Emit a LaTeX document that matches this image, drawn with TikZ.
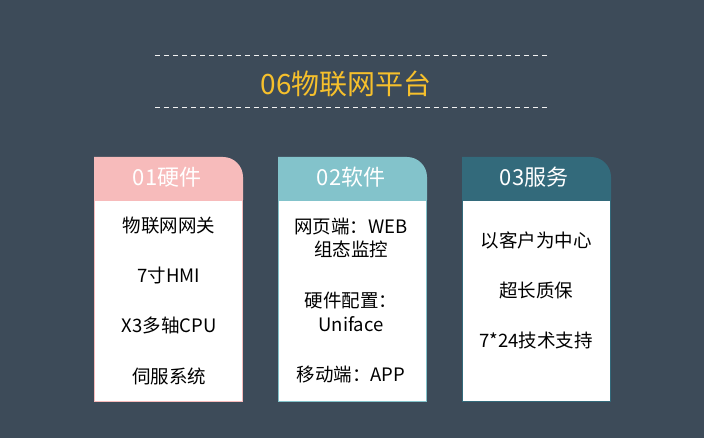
\documentclass[tikz,border=0pt]{standalone}
\usepackage{fontspec}
\setmainfont{Noto Sans CJK SC}
\usetikzlibrary{positioning}
\definecolor{bgslate}{HTML}{3D4B59}
\definecolor{hwpink}{HTML}{F7BBBB}
\definecolor{swteal}{HTML}{83C3CB}
\definecolor{svdark}{HTML}{336A7B}
\definecolor{titleyellow}{HTML}{F6C02C}
\begin{document}
\begin{tikzpicture}[x=1pt,y=-1pt,
  headtext/.style = {text=white, font=\fontsize{22}{26}\selectfont},
  itemtext/.style = {text=black, align=center, font=\fontsize{18.5}{23.5}\selectfont},
  cardbody/.style = {draw=#1, line width=1pt, fill=white, minimum width=148pt, minimum height=201pt, inner sep=0pt},
  rule/.style = {draw=white!90!gray, line width=0.8pt, dash pattern=on 5pt off 4pt}]
  \fill[bgslate] (0,0) rectangle (704,438);
  % title
  \coordinate (ruletopl) at (155,55); \coordinate (ruletopr) at (548,55);
  \coordinate (rulebotl) at (155,107); \coordinate (rulebotr) at (548,107);
  \draw[rule] (ruletopl) -- (ruletopr);
  \draw[rule] (rulebotl) -- (rulebotr);
  \node[text=titleyellow, font=\fontsize{28}{32}\selectfont] (title) at (346,84) {06物联网平台};
  % cards
  \foreach \name/\xl/\col in {hw/94/hwpink, sw/278/swteal, sv/462/svdark} {
    \node[cardbody=\col, anchor=north west] (\name body) at (\xl,200) {};
    \fill[\col] (\xl,200) -- (\xl,157) [rounded corners=20pt] -- (\xl+149,157) [sharp corners] -- (\xl+149,200) -- cycle;
  }
  \node[headtext] (hwhead) at (167,177) {01硬件};
  \node[headtext] (swhead) at (351,177) {02软件};
  \node[headtext] (svhead) at (534,177) {03服务};
  % hardware
  \node[itemtext] (hwa) at (169,226) {物联网网关};
  \node[itemtext] (hwb) at (169,275) {7寸HMI};
  \node[itemtext] (hwc) at (169,325) {X3多轴CPU};
  \node[itemtext] (hwd) at (169,376) {伺服系统};
  % software
  \node[itemtext] (swa) at (351,238) {网页端：WEB\\组态监控};
  \node[itemtext] (swb) at (351,312) {硬件配置：\\Uniface};
  \node[itemtext] (swc) at (351,375) {移动端：APP};
  % service
  \node[itemtext] (sva) at (536,240) {以客户为中心};
  \node[itemtext] (svb) at (536,290) {超长质保};
  \node[itemtext] (svc) at (536,340) {7*24技术支持};
\end{tikzpicture}
\end{document}
